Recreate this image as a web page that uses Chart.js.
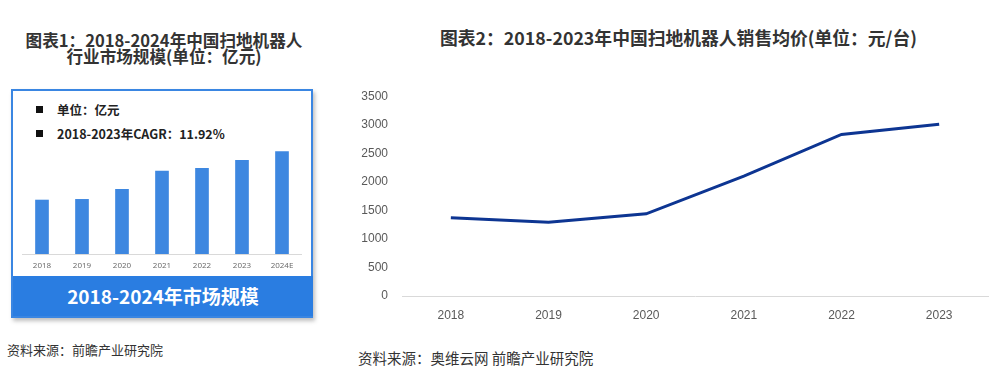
<!DOCTYPE html>
<html>
<head>
    <title>扫地机器人</title>
    <script src="https://cdn.jsdelivr.net/npm/chart.js"></script>
    <style>
        body {
            margin: 0;
            width: 995px;
            height: 383px;
            background: #fff;
            font-family: "Noto Sans CJK SC", sans-serif;
            position: relative;
            overflow: hidden;
        }
        .abs { position: absolute; }
        .title1 {
            left: 4px; top: 32px; width: 320px;
            text-align: center; font-weight: bold; font-size: 16.6px;
            line-height: 16px; color: #333;
        }
        .box {
            left: 11px; top: 89px; width: 298px; height: 225px;
            border: 2px solid #3a86e2;
            box-shadow: 2px 3px 4px rgba(0,0,0,0.25);
        }
        .note {
            left: 36px; font-size: 12.5px; font-weight: bold; color: #222;
        }
        .note span.sq {
            display: inline-block; width: 7px; height: 7px; background: #111;
            margin-right: 14px; vertical-align: 2px;
        }
        .banner {
            left: 13px; top: 276px; width: 300px; height: 40px;
            background: #2a7de1; color: #fff; font-weight: bold;
            font-size: 19px; text-align: center; line-height: 40px;
        }
        .src {
            font-size: 13px; color: #333;
        }
        .title2 {
            left: 346px; top: 24px; width: 665px; text-align: center;
            font-weight: bold; font-size: 17.8px; color: #333;
        }
    </style>
</head>
<body>
    <div class="abs title1">图表1：2018-2024年中国扫地机器人<br>行业市场规模(单位：亿元)</div>
    <div class="abs box"></div>
    <div class="abs note" style="top:100px"><span class="sq"></span>单位：亿元</div>
    <div class="abs note" style="top:124px"><span class="sq"></span>2018-2023年CAGR：11.92%</div>
    <div class="abs" style="left:22px; top:140px; width:280px; height:132px">
        <canvas id="bar"></canvas>
    </div>
    <div class="abs banner">2018-2024年市场规模</div>
    <div class="abs src" style="left:7px; top:340px">资料来源：前瞻产业研究院</div>

    <div class="abs title2">图表2：2018-2023年中国扫地机器人销售均价(单位：元/台)</div>
    <div class="abs" style="left:330px; top:75px; width:665px; height:250px">
        <canvas id="line"></canvas>
    </div>
    <div class="abs src" style="left:358px; top:347px; font-size:14.5px">资料来源：奥维云网 前瞻产业研究院</div>

    <script>
        // market size, 亿元
        const sizeYears = ['2018', '2019', '2020', '2021', '2022', '2023', '2024E'];
        const sizeValues = [80, 81, 96, 123, 127, 139, 152];

        // average price, 元/台
        const priceYears = ['2018', '2019', '2020', '2021', '2022', '2023'];
        const priceValues = [1370, 1290, 1440, 2100, 2830, 3010];
        const priceTicks = [0, 500, 1000, 1500, 2000, 2500, 3000, 3500];

        new Chart(document.getElementById('bar'), {
            type: 'bar',
            data: {
                labels: sizeYears,
                datasets: [{
                    data: sizeValues,
                    backgroundColor: '#3d87e0',
                    barThickness: 13
                }]
            },
            options: {
                responsive: true,
                maintainAspectRatio: false,
                animation: false,
                layout: { padding: 0 },
                plugins: { legend: { display: false }, tooltip: { enabled: false } },
                scales: {
                    x: {
                        grid: { display: false, drawTicks: false },
                        border: { display: true, color: '#d9d9d9', width: 1 },
                        ticks: { color: '#666', font: { size: 8, family: 'Open Sans' }, padding: 7 },
                        afterFit: axis => { axis.height = 18; }
                    },
                    y: {
                        display: false,
                        min: 0,
                        max: 169
                    }
                }
            }
        });

        new Chart(document.getElementById('line'), {
            type: 'line',
            data: {
                labels: priceYears,
                datasets: [{
                    data: priceValues,
                    borderColor: '#0d3592',
                    borderWidth: 3,
                    pointRadius: 0,
                    fill: false,
                    tension: 0
                }]
            },
            options: {
                responsive: true,
                maintainAspectRatio: false,
                animation: false,
                layout: { padding: { top: 10, right: 7, left: 0, bottom: 0 } },
                plugins: { legend: { display: false }, tooltip: { enabled: false } },
                scales: {
                    x: {
                        offset: true,
                        grid: { display: false, drawTicks: false },
                        border: { display: true, color: '#d9d9d9', width: 1 },
                        ticks: { color: '#595959', font: { size: 12, family: 'Liberation Sans' }, padding: 12 },
                        afterFit: axis => { axis.height = 29; }
                    },
                    y: {
                        min: 0,
                        max: 3500,
                        afterBuildTicks: axis => { axis.ticks = priceTicks.map(v => ({ value: v })); },
                        grid: { display: false, drawTicks: false },
                        border: { display: false },
                        ticks: {
                            color: '#595959',
                            font: { size: 12, family: 'Liberation Sans' },
                            padding: 14,
                            callback: v => String(v)
                        },
                        afterFit: axis => { axis.width = 72; }
                    }
                }
            }
        });
    </script>
</body>
</html>
